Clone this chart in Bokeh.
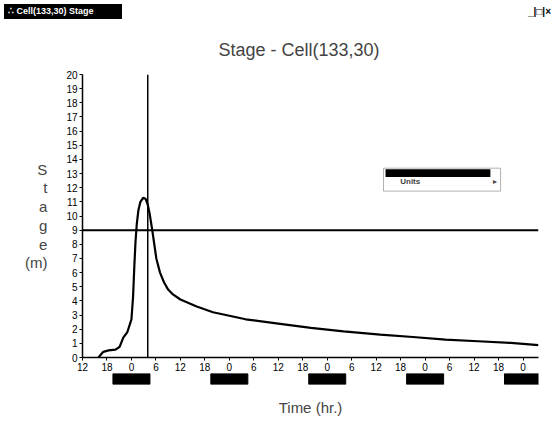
from bokeh.plotting import figure
from bokeh.models import Span, Label, FixedTicker, BoxAnnotation, Div
from bokeh.layouts import column
from bokeh.embed import file_html
from bokeh.resources import INLINE

# ---- data ----
hours = [15.9, 17.1, 18.4, 20.1, 21.1, 22.0, 23.0, 24.0, 24.4, 24.7, 25.0, 25.3,
         25.7, 26.2, 26.9, 27.5, 28.0, 28.5, 29.1, 30.1, 31.0, 32.0, 33.0, 34.0,
         36.0, 40.0, 44.0, 48.0, 52.0, 60.0, 68.0, 76.0, 85.0, 93.0, 101.0,
         109.0, 117.0, 123.8]
stage = [0.0, 0.4, 0.5, 0.55, 0.75, 1.4, 1.8, 2.7, 4.3, 6.4, 8.2, 9.4,
         10.4, 11.0, 11.3, 11.2, 10.8, 10.1, 9.0, 7.0, 6.0, 5.3, 4.8, 4.5,
         4.1, 3.6, 3.2, 2.95, 2.7, 2.4, 2.1, 1.85, 1.62, 1.45, 1.27,
         1.15, 1.03, 0.87]
x_tick_hours = [12, 18, 24, 30, 36, 42, 48, 54, 60, 66, 72, 78, 84, 90, 96,
                102, 108, 114, 120]
x_tick_labels = ["12", "18", "0", "6", "12", "18", "0", "6", "12", "18", "0",
                 "6", "12", "18", "0", "6", "12", "18", "0"]
y_ticks = [0, 1, 2, 3, 4, 5, 6, 7, 8, 9, 10, 11, 12, 13, 14, 15, 16, 17, 18, 19, 20]
marker_hour = 28.0
threshold_stage = 9.0
date_hours = [24, 48, 72, 96, 120]

FONT = "Liberation Sans"

# ---- window title bar ----
bar = Div(width=555, height=20, margin=0, text=(
    "<div style=\"position:relative;width:555px;height:20px;"
    "font-family:'Liberation Sans';font-size:9px;font-weight:bold;\">"
    "<span style=\"position:absolute;left:4px;top:4px;background:black;color:white;"
    "padding:1px 28px 1px 4px;white-space:nowrap;\">\u2234 Cell(133,30) Stage</span>"
    "<span style=\"position:absolute;right:4px;top:5px;font-size:10px;white-space:nowrap;\">"
    "_|\u25a1|\u00d7</span></div>"))

# ---- main chart ----
p = figure(width=555, height=353, x_range=(12, 123.8), y_range=(0, 20),
           output_backend="svg", toolbar_location=None,
           min_border_left=82, min_border_right=17, min_border_top=54,
           min_border_bottom=15)
p.outline_line_color = None
p.xgrid.grid_line_color = None
p.ygrid.grid_line_color = None

p.title.text = "Stage - Cell(133,30)"
p.title.align = "left"
p.title.offset = 136
p.title.text_font = FONT
p.title.text_font_size = "18px"
p.title.text_font_style = "normal"
p.title.standoff = 29

for ax in (p.xaxis[0], p.yaxis[0]):
    ax.axis_line_color = "black"
    ax.axis_line_width = 1.5
    ax.major_tick_line_color = "black"
    ax.major_tick_in = 0
    ax.major_tick_out = 3
    ax.minor_tick_line_color = None
    ax.major_label_text_font = FONT
    ax.major_label_text_font_size = "10px"
    ax.major_label_text_color = "black"
    ax.major_label_standoff = 2

p.xaxis.ticker = FixedTicker(ticks=x_tick_hours)
p.xaxis.major_label_overrides = {h: l for h, l in zip(x_tick_hours, x_tick_labels)}

p.yaxis.ticker = FixedTicker(ticks=y_ticks)
p.yaxis.axis_label = "S\nt\na\ng\ne\n(m)"
p.yaxis.axis_label_orientation = "horizontal"
p.yaxis.axis_label_text_font = FONT
p.yaxis.axis_label_text_font_size = "15px"
p.yaxis.axis_label_text_font_style = "normal"
p.yaxis.axis_label_text_line_height = 1.1
p.yaxis.axis_label_text_align = "center"
p.yaxis.axis_label_standoff = 16

p.line(hours, stage, line_color="black", line_width=2.2)

p.add_layout(Span(location=marker_hour, dimension="height", line_color="black", line_width=1.5))
p.add_layout(Span(location=threshold_stage, dimension="width", line_color="black", line_width=2))

# context menu
p.add_layout(BoxAnnotation(left=85.8, right=114.5, top=13.38, bottom=11.76,
                           fill_color="white", fill_alpha=1.0,
                           line_color="black", line_width=1))
p.add_layout(BoxAnnotation(left=86.3, right=112.0, top=13.31, bottom=12.75,
                           fill_color="black", fill_alpha=1.0, line_color=None))
p.add_layout(Label(x=89.9, y=12.46, text="Units", text_baseline="middle",
                   text_font=FONT, text_font_size="8px", text_font_style="bold"))
p.add_layout(Label(x=113.2, y=12.46, text="\u25b8", text_baseline="middle",
                   text_align="center", text_font=FONT, text_font_size="8px"))

# ---- date strip + x axis title ----
s = figure(width=555, height=48, x_range=p.x_range, y_range=(0, 1),
           output_backend="svg", toolbar_location=None,
           min_border_left=82, min_border_right=17, min_border_top=0,
           min_border_bottom=37)
s.outline_line_color = None
s.xgrid.grid_line_color = None
s.ygrid.grid_line_color = None
s.yaxis.visible = False
s.rect(x=date_hours, y=0.5, width=37, width_units="screen", height=1,
       fill_color="black", line_color="black")
s.xaxis.ticker = FixedTicker(ticks=[])
s.xaxis.axis_line_color = None
s.xaxis.major_tick_line_color = None
s.xaxis.minor_tick_line_color = None
s.xaxis.major_tick_out = 0
s.xaxis.major_label_standoff = 0
s.xaxis.axis_label = "Time (hr.)"
s.xaxis.axis_label_text_font = FONT
s.xaxis.axis_label_text_font_size = "15px"
s.xaxis.axis_label_text_font_style = "normal"
s.xaxis.axis_label_standoff = 14

layout = column(bar, p, s, spacing=0)
open("out.html", "w").write(file_html(layout, INLINE))
